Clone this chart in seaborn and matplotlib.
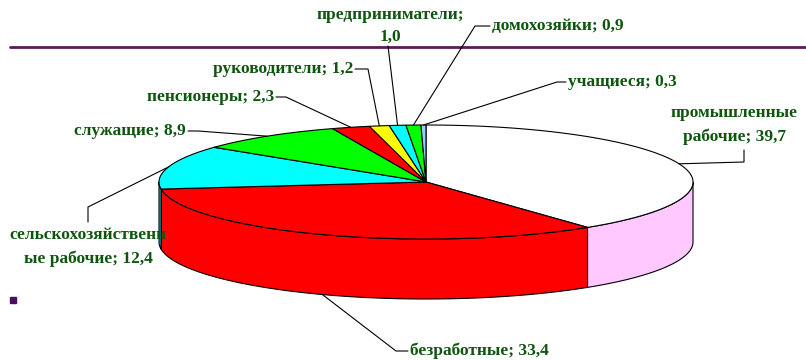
import numpy as np
import matplotlib
matplotlib.use('Agg')
import matplotlib.pyplot as plt
from matplotlib.patches import Polygon
import seaborn as sns

# данные
labels = ['промышленные\nрабочие; 39,7', 'безработные; 33,4', 'сельскохозяйственн\nые рабочие; 12,4',
          'служащие; 8,9', 'пенсионеры; 2,3', 'руководители; 1,2', 'предприниматели;\n1,0',
          'домохозяйки; 0,9', 'учащиеся; 0,3']
values = [39.7, 33.4, 12.4, 8.9, 2.3, 1.2, 1.0, 0.9, 0.3]
top_colors = ['#FFFFFF', '#FF0000', '#00FFFF', '#00FF00', '#FF0000', '#FFFF00', '#00FFFF', '#00FF00', '#99CCFF']
side_colors = ['#FFC8FF', '#FF0000', '#00E0E0', '#00DD00', '#DD0000', '#DDDD00', '#00E0E0', '#00DD00', '#88BBEE']

# label placement: text xy, ha, leader elbow points (pixels)
lab_xy = [(798, 125), (410, 351), (88, 247), (186, 131), (274, 97), (353, 69), (390, 26), (492, 26), (568, 82)]
lab_ha = ['right', 'left', 'center', 'right', 'right', 'right', 'center', 'left', 'left']
lab_path = [[(744, 150), (744, 162)], [(408, 351), (396, 351)], [(88, 222), (88, 207)],
            [(188, 131), (198, 131)], [(276, 97), (286, 97)], [(355, 69), (368, 69)],
            [(388, 46)], [(490, 26), (475, 26)], [(566, 82), (557, 82)]]

sns.set_style('white')
plt.rcParams['font.family'] = ['Liberation Serif', 'DejaVu Serif']

cx, cy, a, b, depth = 426, 182, 267, 57, 60

fig = plt.figure(figsize=(8.06, 3.6), dpi=100)
ax = fig.add_axes([0, 0, 1, 1])
ax.set_xlim(0, 806)
ax.set_ylim(360, 0)
ax.axis('off')


def ell(t, dz=0):
    t = np.radians(t)
    return np.column_stack([cx + a * np.cos(t), cy - b * np.sin(t) + dz])


total = sum(values)
start = 90.0
angles = []
for v in values:
    t1 = start
    t2 = start - v / total * 360
    angles.append((t1, t2))
    start = t2

# sides (front part only)
for (t1, t2), col in zip(angles, side_colors):
    for lo, hi in [(-180, 0), (-540, -360)]:
        ta, tb = min(t1, hi), max(t2, lo)
        if ta <= tb:
            continue
        ts = np.linspace(ta, tb, 80)
        pts = np.vstack([ell(ts), ell(ts[::-1], depth)])
        ax.add_patch(Polygon(pts, closed=True, facecolor=col, edgecolor='black', lw=0.8, zorder=1))

# tops
for (t1, t2), col in zip(angles, top_colors):
    ts = np.linspace(t1, t2, max(4, int(abs(t1 - t2) * 2)))
    pts = np.vstack([[cx, cy], ell(ts)])
    ax.add_patch(Polygon(pts, closed=True, facecolor=col, edgecolor='black', lw=0.8, zorder=2))

# labels and leaders
for lab, (t1, t2), xy, ha, path in zip(labels, angles, lab_xy, lab_ha, lab_path):
    mid = (t1 + t2) / 2
    end = ell([mid])[0]
    if np.sin(np.radians(mid)) < 0:
        end[1] += depth
    pts = np.array(path + [tuple(end)])
    ax.plot(pts[:, 0], pts[:, 1], color='black', lw=0.8, zorder=3)
    ax.text(xy[0], xy[1], lab, ha=ha, va='center', ma='center', fontsize=12.5, fontweight='bold',
            color='#0E550E', linespacing=1.55, zorder=4)

# decoration line and marker
ax.plot([10, 806], [47, 47], color='#5B1A5B', lw=2, zorder=0)
ax.plot([13], [300], marker='s', ms=4, color='#4B0F5B', zorder=0)

fig.savefig('out.png', dpi=100)
